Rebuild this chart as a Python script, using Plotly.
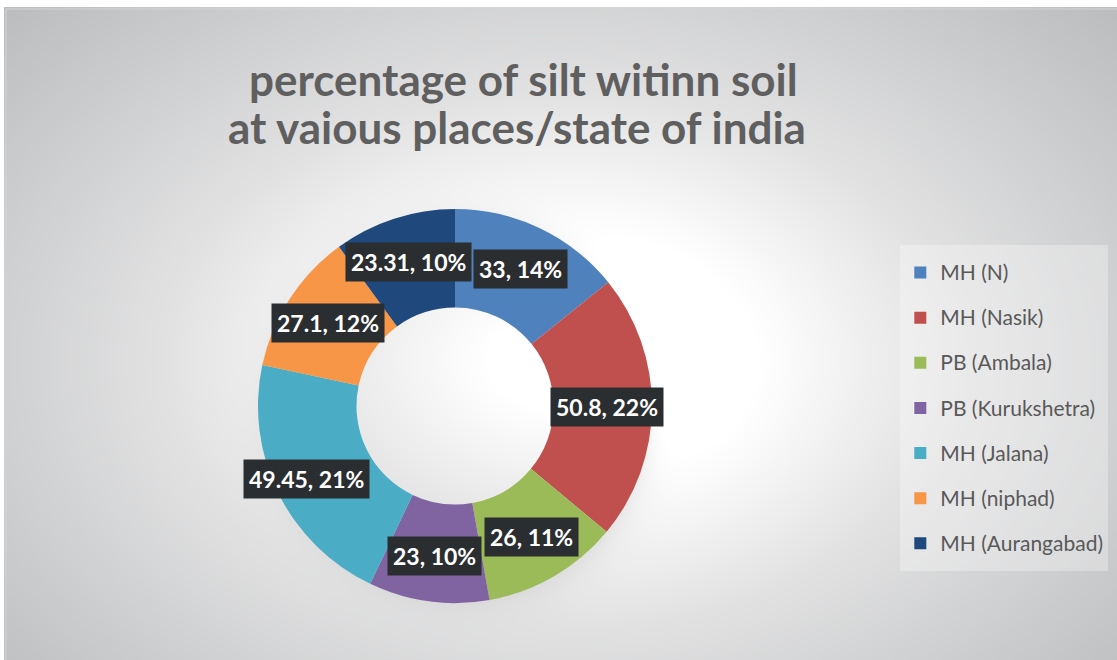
import numpy as np
import plotly.graph_objects as go

# Silt share by location
places = ["MH (N)", "MH (Nasik)", "PB (Ambala)", "PB (Kurukshetra)",
          "MH (Jalana)", "MH (niphad)", "MH (Aurangabad)"]
silt = [33, 50.8, 26, 23, 49.45, 27.1, 23.31]
colors = ["#4F81BD", "#C0504D", "#9BBB59", "#8064A2",
          "#4BACC6", "#F79646", "#1F497D"]
title_lines = ["percentage of silt witinn soil", "at vaious places/state of india"]

W, H = 1117, 660
CX, CY, R = 455, 406, 197   # donut centre / outer radius in pixels

fig = go.Figure()

# radial grey-to-white backdrop with a soft drop shadow around the ring
gx = np.linspace(6, W, 280)
gy = np.linspace(9, H, 165)
XX, YY = np.meshgrid(gx, gy)
dist = np.sqrt(((XX - 560) / 560) ** 2 + ((YY - 360) / 380) ** 2)
rs = np.sqrt((XX - CX - 7) ** 2 + (YY - CY - 5) ** 2)
shadow = np.where(rs > R - 10, 0.22 * np.exp(-np.clip(rs - R + 10, 0, None) / 16), 0.22)
fig.add_trace(go.Heatmap(
    x=gx, y=gy, z=dist + shadow, zmin=0, zmax=1.4, zsmooth="best",
    colorscale=[[0, "#ffffff"], [0.25, "#ffffff"], [0.5, "#e2e2e3"],
                [0.72, "#cfd0d1"], [1, "#b9babc"]],
    showscale=False, hoverinfo="skip"))

fig.add_trace(go.Pie(
    labels=[f'<span style="font-size:21px;baseline-shift:5px">{p}</span>' for p in places],
    values=silt, hole=0.5, sort=False, direction="clockwise", rotation=0,
    marker=dict(colors=colors, line=dict(width=0)),
    textinfo="none", hoverinfo="label+value+percent",
    domain=dict(x=[(CX - R) / W, (CX + R) / W],
                y=[1 - (CY + R) / H, 1 - (CY - R) / H]),
))

# data labels: value and rounded share, placed along each slice's mid-angle
total = sum(silt)
cum = 0.0
for v in silt:
    mid = (cum + v / 2) / total * 2 * np.pi
    cum += v
    rr = (0.84 if v / total > 0.2 and np.sin(mid) < 0 else 0.77) * R
    fig.add_annotation(
        x=CX + rr * np.sin(mid), y=CY - rr * np.cos(mid), xref="x", yref="y",
        text=f"{v:g}, {round(v / total * 100):d}%", showarrow=False,
        font=dict(family="Lato", size=23, color="white", weight="bold"),
        bgcolor="#2b2e31", borderpad=5)

# two-line chart title
for line, ty, tx in zip(title_lines, [79, 127], [523, 517]):
    fig.add_annotation(
        x=tx, y=ty, xref="x", yref="y", text=line, showarrow=False,
        xanchor="center", yanchor="middle",
        font=dict(family="Lato", size=44, color="#5f5f5f", weight="bold"))

fig.add_shape(type="rect", x0=6, y0=9, x1=W + 2, y1=H + 2, xref="x", yref="y",
              line=dict(color="#d4d4d4", width=1), layer="above")

fig.update_layout(
    width=W, height=H,
    margin=dict(l=0, r=0, t=0, b=0),
    paper_bgcolor="white", plot_bgcolor="white",
    xaxis=dict(range=[0, W], visible=False, fixedrange=True),
    yaxis=dict(range=[H, 0], visible=False, fixedrange=True),
    legend=dict(x=0.806, xanchor="left", y=1 - 245 / H, yanchor="top",
                font=dict(family="Lato", size=32.4, color="#595959"),
                bgcolor="rgba(255,255,255,0.3)", itemclick=False),
    showlegend=True,
)

fig.write_html("out.html")
